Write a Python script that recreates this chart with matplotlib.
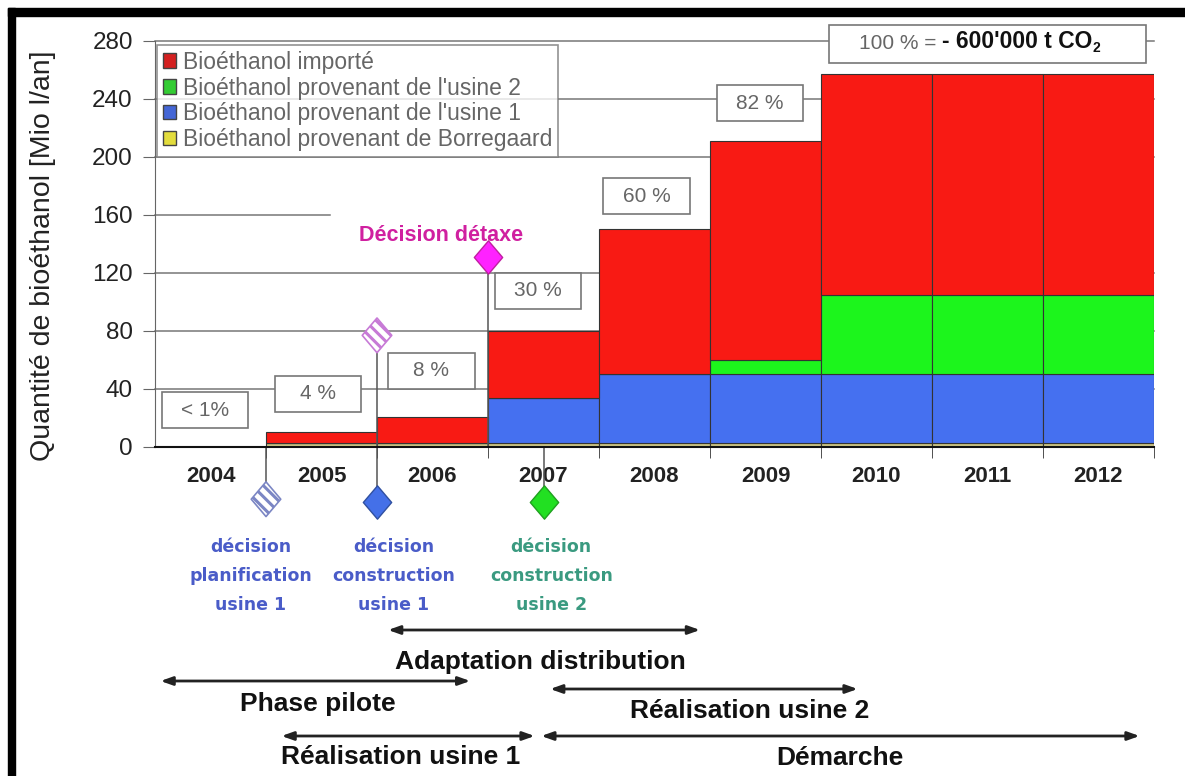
import matplotlib.pyplot as plt
import numpy as np
from matplotlib.patches import Rectangle, Patch
from matplotlib.path import Path

years = ["2004", "2005", "2006", "2007", "2008", "2009", "2010", "2011", "2012"]
borregaard = [0, 3, 3, 3, 3, 3, 3, 3, 3]
usine1 = [0, 0, 0, 31, 47, 47, 47, 47, 47]
usine2 = [0, 0, 0, 0, 0, 10, 55, 55, 55]
importe = [0, 7, 18, 46, 100, 151, 152, 152, 152]

series = [
    ("Bioéthanol provenant de Borregaard", borregaard, "#cfc784", "#e2dc3c"),
    ("Bioéthanol provenant de l'usine 1", usine1, "#4570f0", "#4466d6"),
    ("Bioéthanol provenant de l'usine 2", usine2, "#1cf51c", "#33cc33"),
    ("Bioéthanol importé", importe, "#f81a14", "#d42020"),
]

pct_labels = ["< 1%", "4 %", "8 %", "30 %", "60 %", "82 %"]
pct_x = [-0.05, 0.97, 1.99, 2.95, 3.93, 4.95]
pct_y = [25.5, 36.6, 52.5, 107.7, 173, 237]

phases = ["Adaptation distribution", "Phase pilote", "Réalisation usine 2",
          "Réalisation usine 1", "Démarche"]
phase_start = [1.6, -0.45, 3.06, 0.64, 2.98]
phase_end = [4.41, 2.34, 5.83, 2.92, 8.37]

fig = plt.figure(figsize=(11.85, 7.76), dpi=100)
ax = fig.add_axes([155 / 1185, 1 - 447 / 776, 999 / 1185, 406 / 776])

x = np.arange(len(years))
bottom = np.zeros(len(years))
handles = []
for name, values, color, legend_color in series:
    ax.bar(x, values, width=1.0, bottom=bottom, color=color,
           edgecolor="#333333", linewidth=0.8, zorder=2)
    bottom += np.array(values)
    handles.append(Patch(facecolor=legend_color, edgecolor="#444444", label=name))

ax.set_xlim(-0.5, 8.5)
ax.set_ylim(0, 280)
ax.set_yticks(range(0, 281, 40))
ax.set_xticks(x, years)
ax.set_xticks(np.arange(0.5, 9, 1), minor=True)
ax.tick_params(axis="x", which="major", length=0, pad=14)
ax.tick_params(axis="x", which="minor", length=8, color="#333333")
ax.tick_params(axis="y", length=9, color="#666666", pad=7)
for lab in ax.get_xticklabels():
    lab.set_fontfamily("Liberation Sans")
    lab.set_fontweight("bold")
    lab.set_fontsize(16)
    lab.set_color("#222222")
for lab in ax.get_yticklabels():
    lab.set_fontfamily("Liberation Sans")
    lab.set_fontsize(17.5)
    lab.set_color("#222222")

for side in ["top", "right"]:
    ax.spines[side].set_visible(False)
ax.spines["left"].set_color("#666666")
ax.spines["bottom"].set_color("#111111")
ax.spines["bottom"].set_linewidth(1.5)
ax.spines["bottom"].set_zorder(4)

for gy in range(40, 281, 40):
    xmax = 0.175 if gy == 160 else 1.0
    ax.axhline(gy, xmax=xmax, color="#777777", lw=1.1, zorder=0.5, clip_on=False)

ax.set_ylabel("Quantité de bioéthanol [Mio l/an]", fontfamily="Liberation Sans",
              fontsize=20.5, color="#222222")
ax.yaxis.set_label_coords(-0.099, 0.47)

leg = ax.legend(handles=handles[::-1], loc="upper left", bbox_to_anchor=(0.002, 0.99),
                borderaxespad=0, fancybox=False, edgecolor="#777777",
                handlelength=0.6, handleheight=0.6, handletextpad=0.3,
                labelspacing=0.12, borderpad=0.25, labelcolor="#666666",
                prop={"family": "Liberation Sans", "size": 16.5})
leg.get_frame().set_linewidth(1.2)
leg.set_zorder(6)

# percentage boxes
for label, px, py in zip(pct_labels, pct_x, pct_y):
    ax.add_patch(Rectangle((px - 0.39, py - 12.5), 0.78, 25, facecolor="white",
                           edgecolor="#777777", lw=1.2, zorder=5, clip_on=False))
    ax.text(px, py, label, ha="center", va="center", fontsize=15, color="#666666",
            fontfamily="Liberation Sans", zorder=6)

ax.add_patch(Rectangle((7.0 - 1.43, 278 - 13), 2.86, 26, facecolor="white",
                       edgecolor="#777777", lw=1.2, zorder=5, clip_on=False))
t1 = ax.text(5.84, 278, "100 % = ", ha="left", va="center", fontsize=15,
             color="#666666", fontfamily="Liberation Sans", zorder=6)
t2 = ax.annotate("- 600'000 t CO", xy=(1, 0), xycoords=t1, ha="left", va="bottom",
                 fontsize=16.5, fontweight="bold", color="#111111",
                 fontfamily="Liberation Sans", zorder=6)
ax.annotate("2", xy=(1, -0.05), xycoords=t2, ha="left", va="bottom", fontsize=10,
            fontweight="bold", color="#111111", fontfamily="Liberation Sans", zorder=6)

# decision markers
diamond = Path([(0, 1), (0.85, 0), (0, -1), (-0.85, 0), (0, 1)],
               [Path.MOVETO, Path.LINETO, Path.LINETO, Path.LINETO, Path.CLOSEPOLY])
line_kw = dict(color="#555555", lw=1.1, zorder=3, clip_on=False)
ax.plot([0.5, 0.5], [-36, 0], **line_kw)
ax.plot([1.5, 1.5], [-38, 77], **line_kw)
ax.plot([2.5, 2.5], [0, 131], **line_kw)
ax.plot([3.0, 3.0], [-38, 0], **line_kw)

plt.rcParams["hatch.linewidth"] = 2.2
plt.rcParams["hatch.color"] = "#7b86c4"
ax.scatter([0.5], [-36], marker=diamond, s=25 ** 2, facecolor="white",
           edgecolor="#7b86c4", hatch="\\\\\\", lw=1.2, zorder=7, clip_on=False)
plt.rcParams["hatch.color"] = "#c77ad6"
ax.scatter([1.5], [77], marker=diamond, s=25 ** 2, facecolor="white",
           edgecolor="#c77ad6", hatch="\\\\\\", lw=1.2, zorder=7, clip_on=False)
ax.scatter([1.5], [-38], marker=diamond, s=24 ** 2, facecolor="#4470e8",
           edgecolor="#3050a0", lw=1, zorder=7, clip_on=False)
ax.scatter([3.0], [-38], marker=diamond, s=24 ** 2, facecolor="#22e022",
           edgecolor="#20a020", lw=1, zorder=7, clip_on=False)
ax.scatter([2.5], [131], marker=diamond, s=24 ** 2, facecolor="#ff22ff",
           edgecolor="#c020a0", lw=1, zorder=7, clip_on=False)

ax.text(2.08, 146, "Décision détaxe", ha="center", va="center", fontsize=15.5,
        fontweight="bold", color="#d020a0", fontfamily="Liberation Sans", zorder=6)

dec_kw = dict(ha="center", va="center", fontsize=12.5, fontweight="bold",
              fontfamily="DejaVu Sans", linespacing=1.8, clip_on=False)
ax.text(0.36, -89, "décision\nplanification\nusine 1", color="#4a5cc8", **dec_kw)
ax.text(1.65, -89, "décision\nconstruction\nusine 1", color="#4a5cc8", **dec_kw)
ax.text(3.07, -89, "décision\nconstruction\nusine 2", color="#3a9a80", **dec_kw)

# phase arrows below the chart
arrow_y = [1 - 630 / 776, 1 - 681 / 776, 1 - 689 / 776, 1 - 736 / 776, 1 - 736 / 776]
text_x = [2.97, 0.97, 4.86, 1.71, 5.67]
text_y = [1 - 662 / 776, 1 - 704 / 776, 1 - 711 / 776, 1 - 757 / 776, 1 - 758 / 776]
coords = ("data", "figure fraction")
for name, xs, xe, ay, tx, ty in zip(phases, phase_start, phase_end, arrow_y, text_x, text_y):
    ax.annotate("", xy=(xe, ay), xytext=(xs, ay), xycoords=coords, textcoords=coords,
                arrowprops=dict(arrowstyle="<|-|>,head_length=0.7,head_width=0.25",
                                color="#222222", lw=2, shrinkA=0, shrinkB=0))
    ax.annotate(name, xy=(tx, ty), xycoords=coords, ha="center", va="center",
                fontsize=19, fontweight="bold", color="#111111",
                fontfamily="Liberation Sans")

# black frame at top and left edges
fig.add_artist(Rectangle((8 / 1185, 0), 7 / 1185, 1 - 8 / 776,
                         transform=fig.transFigure, color="black"))
fig.add_artist(Rectangle((8 / 1185, 1 - 16 / 776), 1, 8 / 776,
                         transform=fig.transFigure, color="black"))

fig.savefig("out.png", dpi=100)
